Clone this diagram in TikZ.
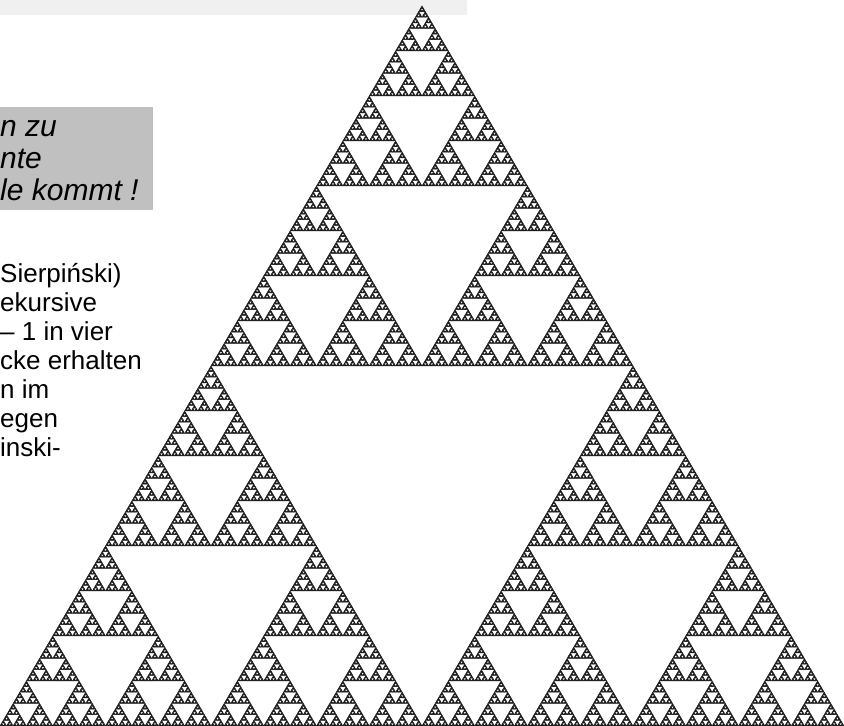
\documentclass[tikz,border=0pt]{standalone}
\usepackage{fontspec}
\setmainfont{Liberation Sans}
\definecolor{boxgray}{HTML}{C0C0C0}
\definecolor{stripgray}{HTML}{F0F0F0}
\definecolor{sierfill}{HTML}{1E1E1E}
\newcommand\sierpRatio{0.8531}
\def\sierpT#1#2#3#4{%
  \ifnum#1=0\relax
    \filldraw[sierleaf] (#2,#3) -- ++(#4,0) -- ++(-#4/2,#4*\sierpRatio) -- cycle;%
  \else
    \begingroup
      \pgfmathsetmacro\sierpHs{#4/2}%
      \pgfmathsetmacro\sierpXb{#2+\sierpHs}%
      \pgfmathsetmacro\sierpXc{#2+\sierpHs/2}%
      \pgfmathsetmacro\sierpYc{#3+\sierpHs*\sierpRatio}%
      \pgfmathtruncatemacro\sierpLv{#1-1}%
      \edef\sierpNext{\noexpand\sierpT{\sierpLv}{#2}{#3}{\sierpHs}%
        \noexpand\sierpT{\sierpLv}{\sierpXb}{#3}{\sierpHs}%
        \noexpand\sierpT{\sierpLv}{\sierpXc}{\sierpYc}{\sierpHs}}%
    \expandafter\endgroup\sierpNext
  \fi}
\tikzset{
  sierleaf/.style={fill=sierfill, draw=sierfill, line width=0.5pt, line join=round},
  boxtext/.style={anchor=base west, inner sep=0pt, font=\fontsize{30}{32}\selectfont\itshape},
  bodytext/.style={anchor=base west, inner sep=0pt, font=\fontsize{26}{29}\selectfont},
}
\begin{document}
\begin{tikzpicture}[x=1pt,y=1pt]
\useasboundingbox (0,0) rectangle (844,726);
\fill[white] (0,0) rectangle (844,726);
% faint strip at the top
\fill[stripgray] (0,726) rectangle (467,711);
% grey box
\fill[boxgray] (0,619) rectangle (153,516);
\node[boxtext] (b1) at (0,589) {n zu};
\node[boxtext] (b2) at (0,557) {nte};
\node[boxtext] (b3) at (0,525) {le kommt !};
% body text
\node[bodytext] (t1) at (0,443) {Sierpiński)};
\node[bodytext] (t2) at (0,414) {ekursive};
\node[bodytext] (t3) at (0,385) {– 1 in vier};
\node[bodytext] (t4) at (0,356) {cke erhalten};
\node[bodytext] (t5) at (0,327) {n im};
\node[bodytext] (t6) at (0,298) {egen};
\node[bodytext] (t7) at (0,269) {inski-};
% Sierpinski triangle
\begin{scope}
\clip (0,0) rectangle (844,726);
\sierpT{8}{0}{0}{844}
\end{scope}
\end{tikzpicture}
\end{document}
